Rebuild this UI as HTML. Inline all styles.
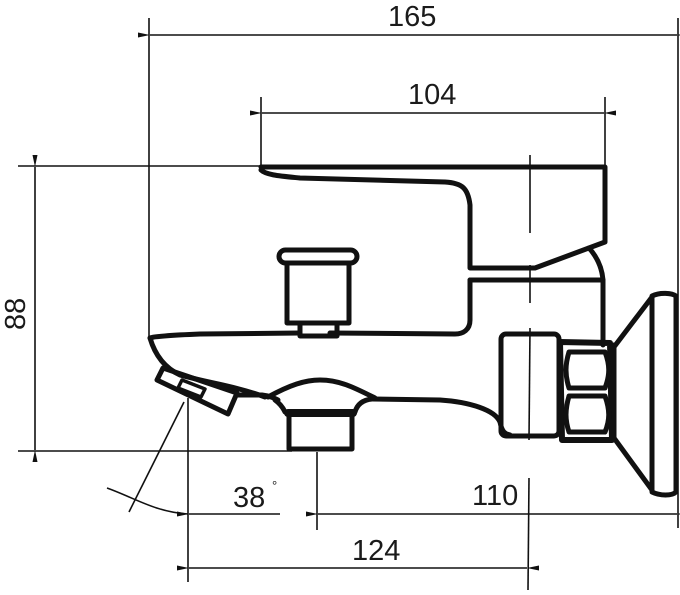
<!DOCTYPE html>
<html><head><meta charset="utf-8"><style>
html,body{margin:0;padding:0;background:#fff;}
svg{display:block;}
text{font-family:"Liberation Sans",sans-serif;font-size:29px;fill:#1a1a1a;}
</style></head><body>
<svg width="680" height="595" viewBox="0 0 680 595" xmlns="http://www.w3.org/2000/svg">
<defs>
<marker id="a" markerWidth="12" markerHeight="7" refX="0" refY="3.5" orient="auto-start-reverse" markerUnits="userSpaceOnUse">
<path d="M0,3.5 L12,1 L12,6 Z" fill="#111"/></marker>
</defs>
<g stroke="#111" stroke-width="1.6" fill="none">
<line x1="149" y1="18" x2="149" y2="338"/>
<line x1="678" y1="18" x2="678" y2="528"/>
<line x1="150" y1="35" x2="677" y2="35" marker-start="url(#a)" marker-end="url(#a)"/>
<line x1="261" y1="97" x2="261" y2="168"/>
<line x1="605" y1="97" x2="605" y2="165"/>
<line x1="262" y1="113" x2="604" y2="113" marker-start="url(#a)" marker-end="url(#a)"/>
<line x1="18" y1="166" x2="261" y2="166"/>
<line x1="18" y1="451" x2="292" y2="451"/>
<line x1="35" y1="167" x2="35" y2="450" marker-start="url(#a)" marker-end="url(#a)"/>
<line x1="530" y1="155" x2="530" y2="233"/>
<line x1="530" y1="265" x2="530" y2="303"/>
<line x1="530" y1="328" x2="529" y2="440"/>
<line x1="529" y1="478" x2="528" y2="590"/>
<line x1="317" y1="452" x2="317" y2="530"/>
<line x1="318" y1="514" x2="677" y2="514" marker-start="url(#a)" marker-end="url(#a)"/>
<line x1="188" y1="398" x2="188" y2="582"/>
<line x1="189" y1="514" x2="280" y2="514" marker-start="url(#a)"/>
<line x1="184" y1="402" x2="129" y2="512"/>
<path d="M107,488 C135,498 155,512 188,514"/>
<line x1="189" y1="568" x2="527" y2="568" marker-start="url(#a)" marker-end="url(#a)"/>
</g>
<g stroke="#111" stroke-width="5" fill="none" stroke-linejoin="round" stroke-linecap="round">
<path d="M261,167 L605,167 L605,242 L535,268 L470,268 L470,205 C468,188 462,183 445,182 L300,178 C280,176 266,175 261,170"/>
<path d="M470,280 L603,280 L603,345"/>
<path d="M589,248 C598,258 602,268 603,280"/>
<path d="M470,280 L470,320 C470,330 463,334 455,334 L330,333"/>
<path d="M300,333 L200,334 C175,335 155,336 150,338"/>
<rect x="279" y="250" width="78" height="13" rx="6.5"/>
<rect x="287" y="263" width="62" height="60"/>
<rect x="300" y="323" width="37" height="13"/>
<path d="M150,338 C155,355 165,368 180,375 C205,382 235,386 265,397"/>
<path d="M157,380 L163,368 L237,393 L228,414 Z"/>
<path d="M182,380 L205,389 L201,397 L178,388 Z" stroke-width="3.5"/>
<path d="M237,395 L262,395 C270,396 274,398 278,400"/>
<path d="M268,397 C290,385 305,380 320,380 C340,380 355,388 375,398"/>
<path d="M275,400 C282,405 284,410 285,412 L355,412 C357,405 362,400 372,399"/>
<rect x="289" y="413" width="63" height="36" stroke-width="5"/>
<line x1="288" y1="413" x2="353" y2="413" stroke-width="8"/>
<path d="M372,399 L440,400 C470,402 495,410 500,422 C502,432 505,434 510,435"/>
<rect x="501" y="334" width="58" height="102" rx="5"/>
<path d="M560,342 L610,343 L612,440 L562,440 Z" stroke-width="6"/>
<path d="M569,352 L605,352 C610,365 610,375 605,388 L569,388 C565,375 565,365 569,352 Z"/>
<path d="M569,396 L605,396 C610,410 610,420 605,432 L569,432 C565,420 565,410 569,396 Z"/>
<path d="M614,347 L652,297 M614,438 L652,490"/>
<line x1="614" y1="345" x2="614" y2="440"/>
<path d="M652,296 C660,292 672,293 676,296 L676,492 C672,496 660,496 652,492 Z"/>
</g>
<text x="388" y="26">165</text>
<text x="408" y="104">104</text>
<text x="-330" y="25" transform="rotate(-90)">88</text>
<text x="233" y="507">38</text>
<text x="272" y="490" style="font-size:13px">°</text>
<text x="472" y="505">110</text>
<text x="352" y="560">124</text>
</svg>
</body></html>
